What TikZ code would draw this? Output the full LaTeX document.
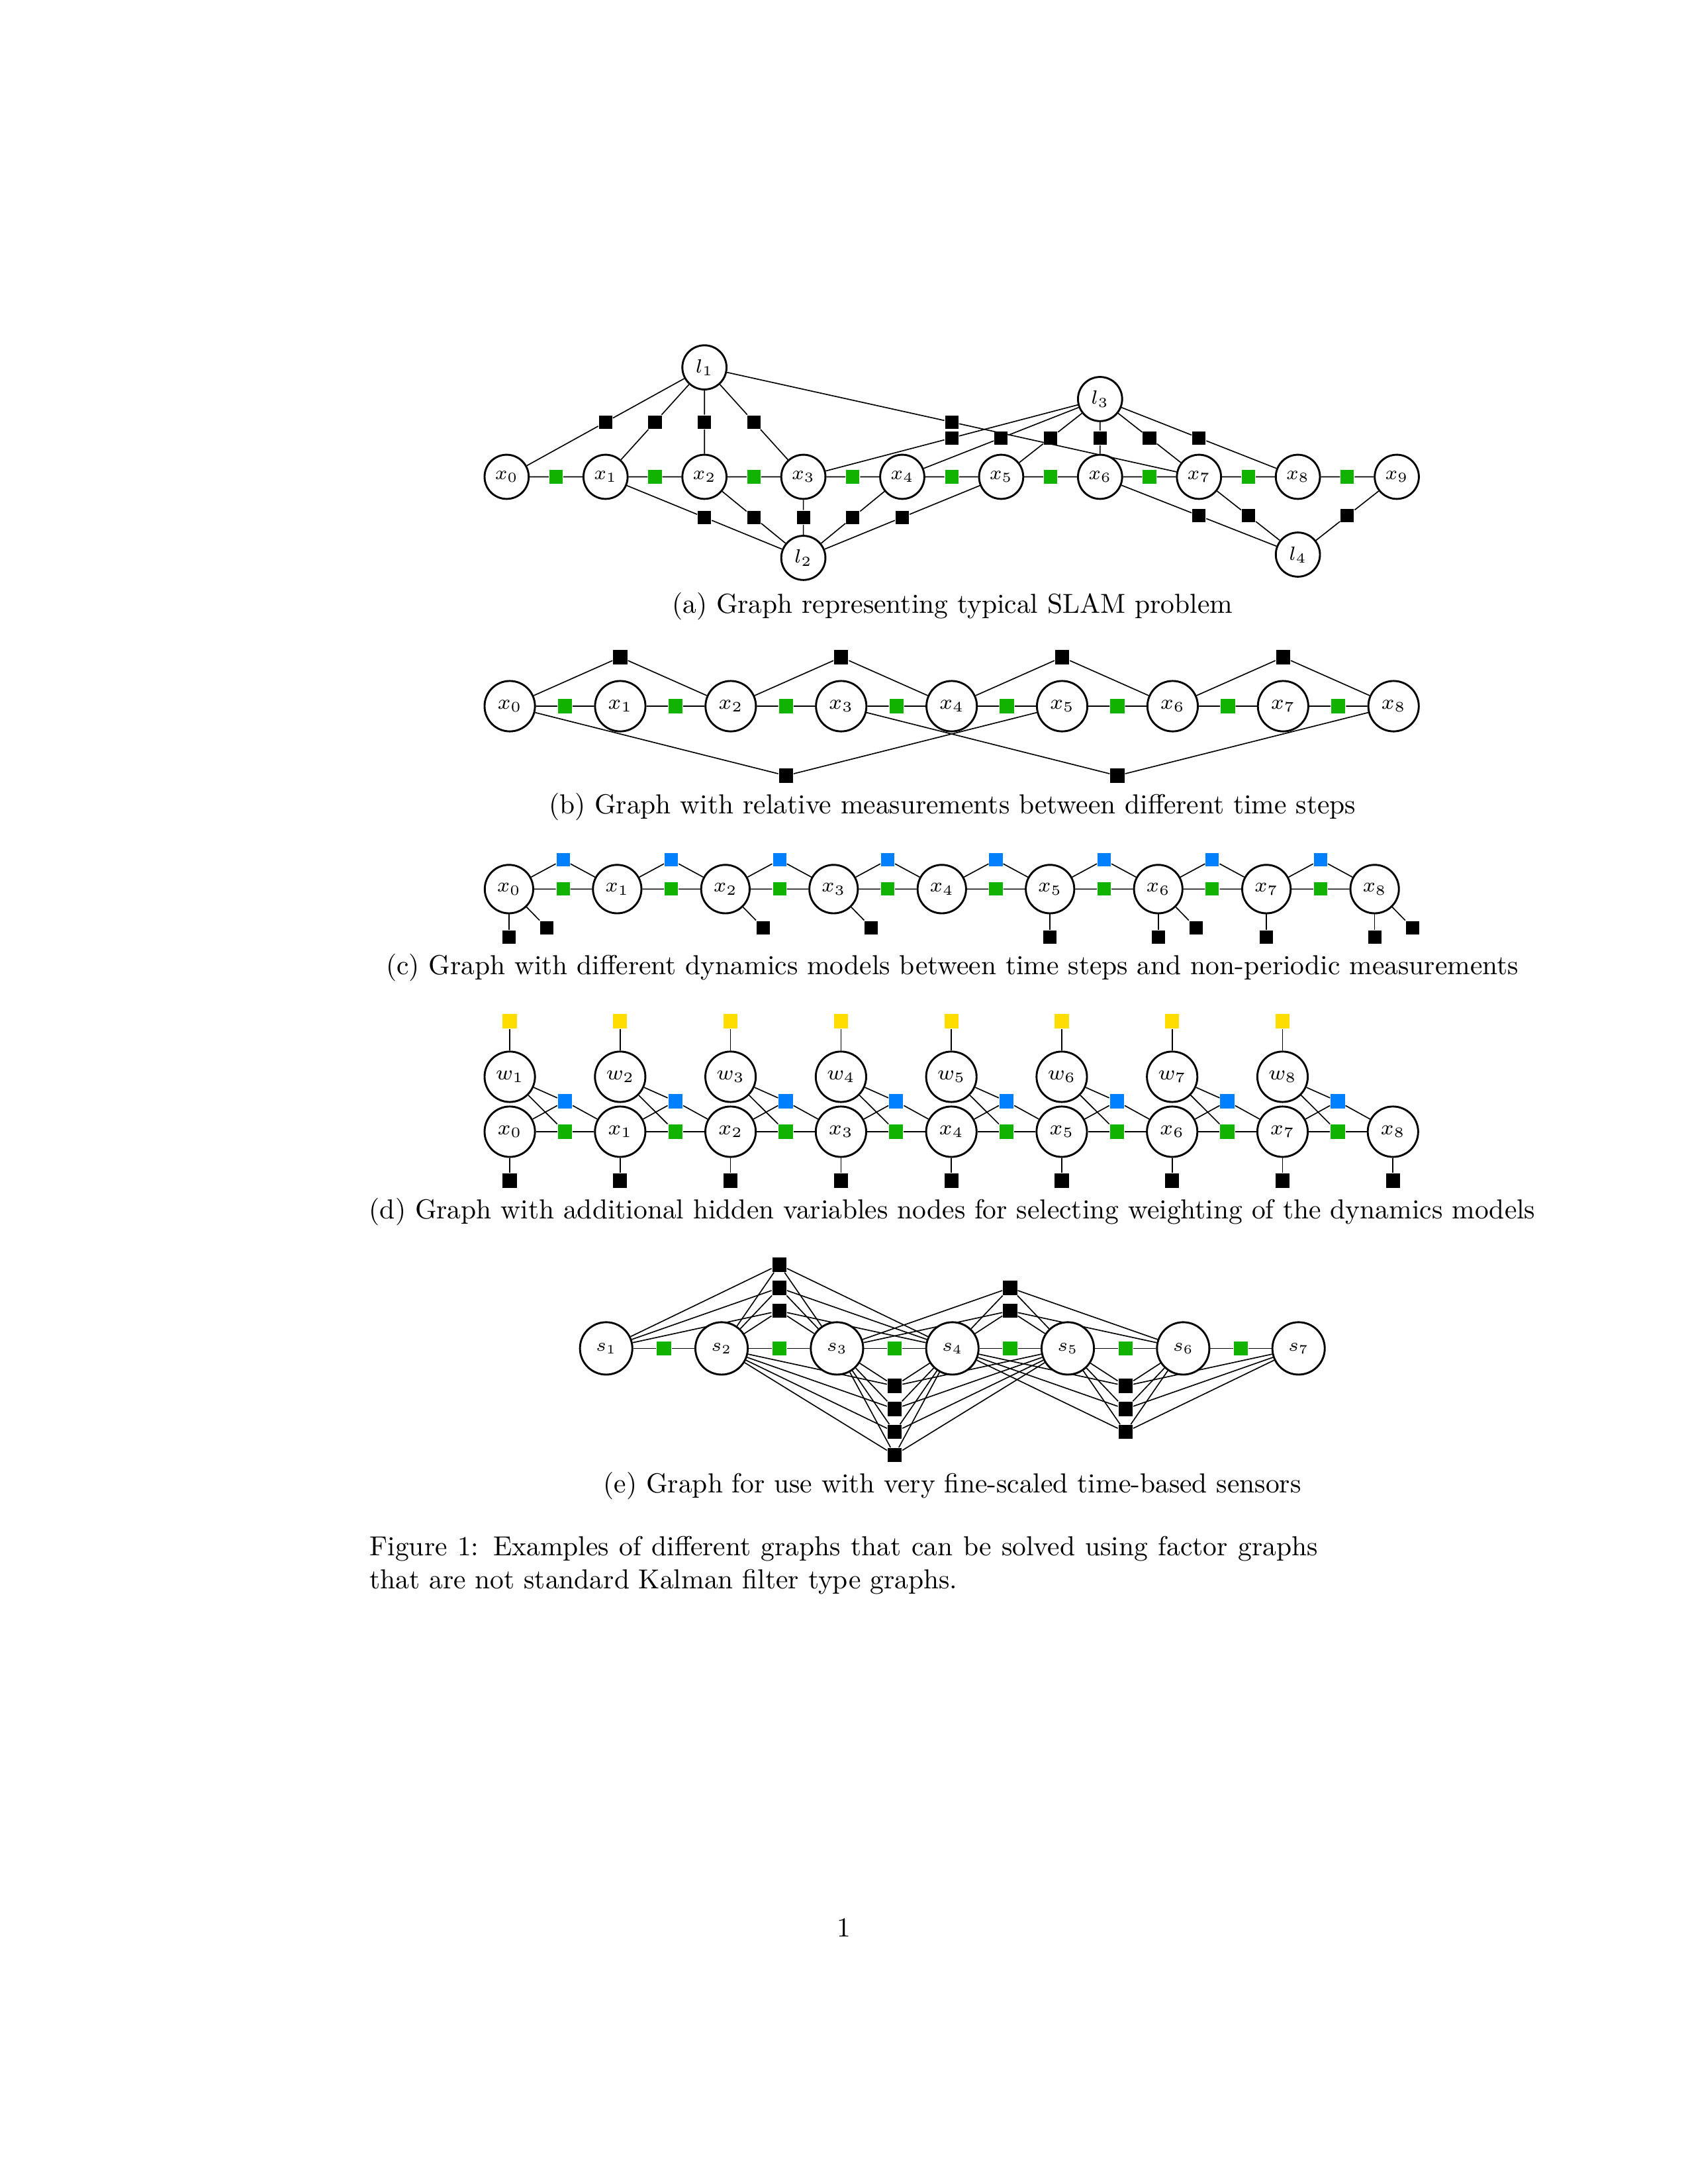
\documentclass[tikz,border=0pt]{standalone}
\usepackage{fix-cm}
\usetikzlibrary{calc,backgrounds}

\definecolor{odogreen}{RGB}{17,178,0}
\definecolor{dynblue}{RGB}{0,128,255}
\definecolor{wyellow}{RGB}{255,221,0}

\tikzset{
  every picture/.style={line width=0.5pt},
  var/.style={draw, circle, fill=white, line width=0.7pt, inner sep=0pt},
  vara/.style={var, minimum size=0.565cm, font=\fontsize{7}{8}\selectfont},
  varb/.style={var, minimum size=0.645cm, font=\fontsize{7.5}{8}\selectfont},
  varc/.style={var, minimum size=0.62cm, font=\fontsize{7.3}{8}\selectfont},
  vare/.style={var, minimum size=0.67cm, font=\fontsize{6.6}{7}\selectfont},
  fac/.style={fill=black, inner sep=0pt, minimum size=0.17cm},
  bigfac/.style={fac, minimum size=0.18cm},
  odo/.style={fill=odogreen},
  dyn/.style={fill=dynblue},
  prior/.style={fill=wyellow},
  subcap/.style={anchor=base, inner sep=0pt},
}

\begin{document}
\begin{tikzpicture}
    \useasboundingbox (0,0) rectangle (21.59,-27.94);

    % (a)
    \foreach \i in {0,...,9}
        \node[vara] (xa\i) at ({6.48+1.265*\i},-6.10) {$x_{\i}$};
    \node[vara] (la1) at (9.01,-4.70) {$l_1$};
    \node[vara] (la2) at (10.275,-7.137) {$l_2$};
    \node[vara] (la3) at (14.07,-5.105) {$l_3$};
    \node[vara] (la4) at (16.60,-7.095) {$l_4$};
    \foreach \i [count=\j] in {0,...,8}
    {
        \node[fac,odo] (oa\i) at ($(xa\i)!0.5!(xa\j)$) {};
        \begin{scope}[on background layer]
            \draw (xa\i) -- (oa\i) -- (xa\j);
        \end{scope}
    }
    \foreach \l/\x in {la1/0,la1/1,la1/2,la1/3,la1/7,la2/1,la2/2,la2/3,la2/4,la2/5,
                       la3/3,la3/4,la3/5,la3/6,la3/7,la3/8,la4/6,la4/7,la4/9}
    {
        \node[fac] (m\l x\x) at ($(\l)!0.5!(xa\x)$) {};
        \begin{scope}[on background layer]
            \draw (\l) -- (m\l x\x) -- (xa\x);
        \end{scope}
    }
    \node[subcap] (capa) at (12.18,-7.846) {(a) Graph representing typical SLAM problem};

    % (b)
    \foreach \i in {0,...,8}
        \node[varb] (xb\i) at ({6.52+1.413*\i},-9.034) {$x_{\i}$};
    \foreach \i [count=\j] in {0,...,7}
    {
        \node[bigfac,odo] (ob\i) at ($(xb\i)!0.5!(xb\j)$) {};
        \begin{scope}[on background layer]
            \draw (xb\i) -- (ob\i) -- (xb\j);
        \end{scope}
    }
    \foreach \i/\j/\k in {0/1/2,2/3/4,4/5/6,6/7/8}
    {
        \node[bigfac] (tb\j) at ({6.52+1.413*\j},-8.407) {};
        \begin{scope}[on background layer]
            \draw (xb\i) -- (tb\j) -- (xb\k);
        \end{scope}
    }
    \node[bigfac] (bb1) at (10.0525,-9.923) {};
    \node[bigfac] (bb2) at (14.2915,-9.923) {};
    \begin{scope}[on background layer]
        \draw (xb0) -- (bb1) -- (xb5);
        \draw (xb3) -- (bb2) -- (xb8);
    \end{scope}
    \node[subcap] (capb) at (12.18,-10.41) {(b) Graph with relative measurements between different time steps};

    % (c)
    \foreach \i in {0,...,8}
        \node[varc] (xc\i) at ({6.51+1.384*\i},-11.374) {$x_{\i}$};
    \foreach \i [count=\j] in {0,...,7}
    {
        \node[fac,odo] (oc\i) at ($(xc\i)!0.5!(xc\j)$) {};
        \node[fac,dyn] (dc\i) at ({6.51+1.384*(\i+0.5)},-11.0) {};
        \begin{scope}[on background layer]
            \draw (xc\i) -- (oc\i) -- (xc\j);
            \draw (xc\i) -- (dc\i) -- (xc\j);
        \end{scope}
    }
    \foreach \i in {0,5,6,7,8}
    {
        \node[fac] (sc\i) at ({6.51+1.384*\i},-11.99) {};
        \begin{scope}[on background layer]
            \draw (xc\i) -- (sc\i);
        \end{scope}
    }
    \foreach \i in {0,2,3,6,8}
    {
        \node[fac] (kc\i) at ({6.51+1.384*\i+0.483},-11.868) {};
        \begin{scope}[on background layer]
            \draw (xc\i) -- (kc\i);
        \end{scope}
    }
    \node[subcap] (capc) at (12.18,-12.47) {(c) Graph with different dynamics models between time steps and non-periodic measurements};

    % (d)
    \foreach \i in {0,...,8}
    {
        \node[varb] (xd\i) at ({6.52+1.412*\i},-14.478) {$x_{\i}$};
        \node[bigfac] (pd\i) at ({6.52+1.412*\i},-15.105) {};
        \begin{scope}[on background layer]
            \draw (xd\i) -- (pd\i);
        \end{scope}
    }
    \foreach \i [count=\j] in {0,...,7}
    {
        \node[varb] (wd\j) at ({6.52+1.412*\i},-13.775) {$w_{\j}$};
        \node[bigfac,prior] (yd\j) at ({6.52+1.412*\i},-13.064) {};
        \node[bigfac,dyn] (dd\i) at ({6.52+1.412*(\i+0.5)},-14.089) {};
        \node[bigfac,odo] (od\i) at ({6.52+1.412*(\i+0.5)},-14.478) {};
        \begin{scope}[on background layer]
            \draw (wd\j) -- (yd\j);
            \draw (xd\i) -- (dd\i) -- (xd\j);
            \draw (xd\i) -- (od\i) -- (xd\j);
            \draw (wd\j) -- (dd\i);
            \draw (wd\j) -- (od\i);
        \end{scope}
    }
    \node[subcap] (capd) at (12.18,-15.59) {(d) Graph with additional hidden variables nodes for selecting weighting of the dynamics models};

    % (e)
    \foreach \i in {1,...,7}
        \node[vare] (se\i) at ({7.753+1.476*(\i-1)},-17.25) {$s_{\i}$};
    \foreach \i [count=\j from 2] in {1,...,6}
    {
        \node[bigfac,odo] (oe\i) at ($(se\i)!0.5!(se\j)$) {};
        \begin{scope}[on background layer]
            \draw (se\i) -- (oe\i) -- (se\j);
        \end{scope}
    }
    \foreach \y [count=\k] in {0.48,0.775,1.07}
    {
        \node[bigfac] (ta\k) at (9.967,{-17.25+\y}) {};
        \begin{scope}[on background layer]
            \foreach \s in {1,...,4} \draw (se\s) -- (ta\k);
        \end{scope}
    }
    \foreach \y [count=\k] in {0.48,0.775}
    {
        \node[bigfac] (tc\k) at (12.919,{-17.25+\y}) {};
        \begin{scope}[on background layer]
            \foreach \s in {3,...,6} \draw (se\s) -- (tc\k);
        \end{scope}
    }
    \foreach \y [count=\k] in {0.48,0.775,1.07,1.365}
    {
        \node[bigfac] (bc\k) at (11.443,{-17.25-\y}) {};
        \begin{scope}[on background layer]
            \foreach \s in {2,...,5} \draw (se\s) -- (bc\k);
        \end{scope}
    }
    \foreach \y [count=\k] in {0.48,0.775,1.07}
    {
        \node[bigfac] (bd\k) at (14.395,{-17.25-\y}) {};
        \begin{scope}[on background layer]
            \foreach \s in {4,...,7} \draw (se\s) -- (bd\k);
        \end{scope}
    }
    \node[subcap] (cape) at (12.18,-19.10) {(e) Graph for use with very fine-scaled time-based sensors};

    \node[anchor=base west, inner sep=0pt] (fig1) at (4.72,-19.897)
        {\makebox[345pt][s]{Figure 1: Examples of different graphs that can be solved using factor graphs}};
    \node[anchor=base west, inner sep=0pt] (fig2) at (4.72,-20.32)
        {that are not standard Kalman filter type graphs.};

    \node[subcap] (pagenum) at (10.795,-24.78) {1};
\end{tikzpicture}
\end{document}
